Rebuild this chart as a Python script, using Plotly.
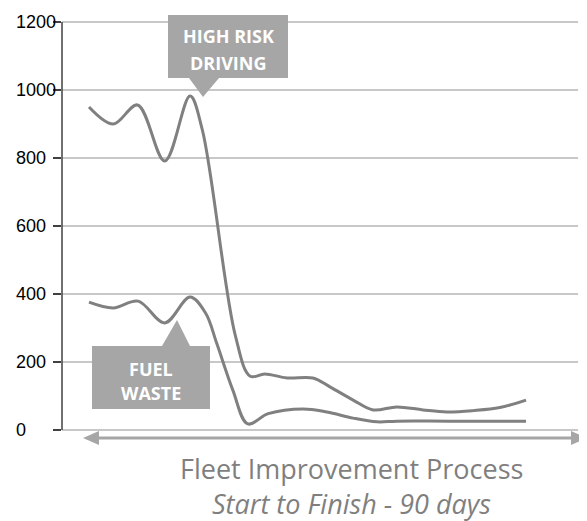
import plotly.graph_objects as go

# ---------------- data ----------------
risk_days = [0, 5, 10, 15.6, 20.8, 23.3, 30.1, 33.2, 36.2, 40.8, 46.1, 49.6, 54.4, 58.5, 63.4, 68.8, 73.7, 79.1, 84.6, 90]
risk_vals = [950, 900, 956, 791, 982, 885, 280, 158, 165, 153, 153, 127, 88, 59, 68, 59, 53, 57, 66, 88]

fuel_days = [0, 5, 10.1, 15.6, 20.8, 24, 26.3, 29.6, 32.7, 36.9, 44.1, 49, 54.4, 59.3, 63.4, 74, 90]
fuel_vals = [376, 359, 379, 315, 391, 344, 255, 118, 18, 48, 62, 53, 35, 24, 26, 26, 26]

y_ticks = [0, 200, 400, 600, 800, 1000, 1200]
y_labels = ["0", "200", "400", "600", "800", "1000", "1200"]

callout_risk = ["HIGH RISK", "DRIVING"]
callout_fuel = ["FUEL", "WASTE"]
caption = ["Fleet Improvement Process", "Start to Finish - 90 days"]

# ---------------- layout geometry ----------------
OFF = 8                      # page body margin
W, H = 587 - OFF, 521 - OFF
ML, MR, MT, MB = 4, 9, 2, 79
PW, PH = W - ML - MR, H - MT - MB
EXT = 12 / 0.34              # y-range padding (units) so end labels show


def px(x):                   # reference pixel x -> paper
    return (x - OFF - ML) / PW


def py(y):                   # reference pixel y -> paper
    return (H - MB - (y - OFF)) / PH


LINE = "#808080"
BOX = "#a6a6a6"

fig = go.Figure()
fig.add_trace(go.Scatter(x=risk_days, y=risk_vals, mode="lines",
                         line=dict(color=LINE, width=3, shape="spline", smoothing=1.0),
                         hoverinfo="skip", showlegend=False))
fig.add_trace(go.Scatter(x=fuel_days, y=fuel_vals, mode="lines",
                         line=dict(color=LINE, width=3, shape="spline", smoothing=1.0),
                         hoverinfo="skip", showlegend=False))
# carrier trace for the left-aligned tick label axis
fig.add_trace(go.Scatter(x=[0], y=[0], yaxis="y2", mode="markers",
                         marker=dict(opacity=0), hoverinfo="skip", showlegend=False))

shapes = []
# y axis line from 0 to 1200
shapes.append(dict(type="line", xref="paper", yref="y", x0=px(62), x1=px(62),
                   y0=0, y1=1200, line=dict(color="#404040", width=1.5)))
# HIGH RISK callout (box + pointer)
shapes.append(dict(type="path", xref="paper", yref="paper",
                   path=(f"M{px(168)},{py(15)} L{px(288)},{py(15)} L{px(288)},{py(78)} "
                         f"L{px(219)},{py(78)} L{px(203)},{py(97)} L{px(189)},{py(78)} "
                         f"L{px(168)},{py(78)} Z"),
                   fillcolor=BOX, line=dict(width=0), layer="above"))
# FUEL WASTE callout (box + pointer)
shapes.append(dict(type="path", xref="paper", yref="paper",
                   path=(f"M{px(92)},{py(346)} L{px(162)},{py(346)} L{px(177)},{py(320)} "
                         f"L{px(190)},{py(346)} L{px(210)},{py(346)} L{px(210)},{py(409)} "
                         f"L{px(92)},{py(409)} Z"),
                   fillcolor=BOX, line=dict(width=0), layer="above"))
# double-headed arrow below the axis
shapes.append(dict(type="line", xref="paper", yref="paper",
                   x0=px(96), x1=px(574), y0=py(438), y1=py(438),
                   line=dict(color=BOX, width=3)))
shapes.append(dict(type="path", xref="paper", yref="paper",
                   path=f"M{px(83)},{py(438)} L{px(99)},{py(431)} L{px(99)},{py(445)} Z",
                   fillcolor=BOX, line=dict(width=0)))
shapes.append(dict(type="path", xref="paper", yref="paper",
                   path=f"M{px(587)},{py(438)} L{px(571)},{py(431)} L{px(571)},{py(445)} Z",
                   fillcolor=BOX, line=dict(width=0)))

ann_font = dict(family="Open Sans, Noto Sans, sans-serif", size=18, color="white")
annotations = []
for text, cx, cy in [(callout_risk[0], 228, 36.5), (callout_risk[1], 228, 62.5),
                     (callout_fuel[0], 151, 368.5), (callout_fuel[1], 151, 392.5)]:
    annotations.append(dict(text=f"<b>{text}</b>", xref="paper", yref="paper",
                            x=px(cx), y=py(cy), xanchor="center", yanchor="middle",
                            showarrow=False, font=ann_font))
cap_font = dict(family="Open Sans, Noto Sans, sans-serif", size=27, color="#7f7f7f")
annotations.append(dict(text=caption[0], xref="paper", yref="paper",
                        x=px(351), y=py(468), xanchor="center", yanchor="middle",
                        showarrow=False, font=cap_font))
annotations.append(dict(text=f"<i>{caption[1]}</i>", xref="paper", yref="paper",
                        x=px(351), y=py(503), xanchor="center", yanchor="middle",
                        showarrow=False, font=cap_font))

x0_day = (62 - 89) / 4.856
x1_day = (578 - 89) / 4.856
yr = [-EXT, 1200 + EXT]

fig.update_layout(
    width=W, height=H,
    margin=dict(l=ML, r=MR, t=MT, b=MB, pad=0),
    paper_bgcolor="white", plot_bgcolor="white",
    xaxis=dict(domain=[px(62), 1], range=[x0_day, x1_day],
               showgrid=False, zeroline=False, showline=False,
               showticklabels=False, ticks=""),
    yaxis=dict(range=yr, tickvals=y_ticks, showticklabels=False,
               showgrid=True, gridcolor="#c8c8c8", gridwidth=2,
               zeroline=False, showline=False,
               ticks="outside", ticklen=8, tickcolor="#404040", tickwidth=1.5),
    yaxis2=dict(overlaying="y", anchor="free", position=0, side="left",
                range=yr, tickvals=y_ticks, ticktext=y_labels,
                ticklabelposition="inside", showgrid=False, zeroline=False,
                showline=False, ticks="",
                tickfont=dict(family="Liberation Sans, Arial, sans-serif",
                              size=18, color="#000000")),
    shapes=shapes, annotations=annotations,
)

fig.write_html("out.html")
